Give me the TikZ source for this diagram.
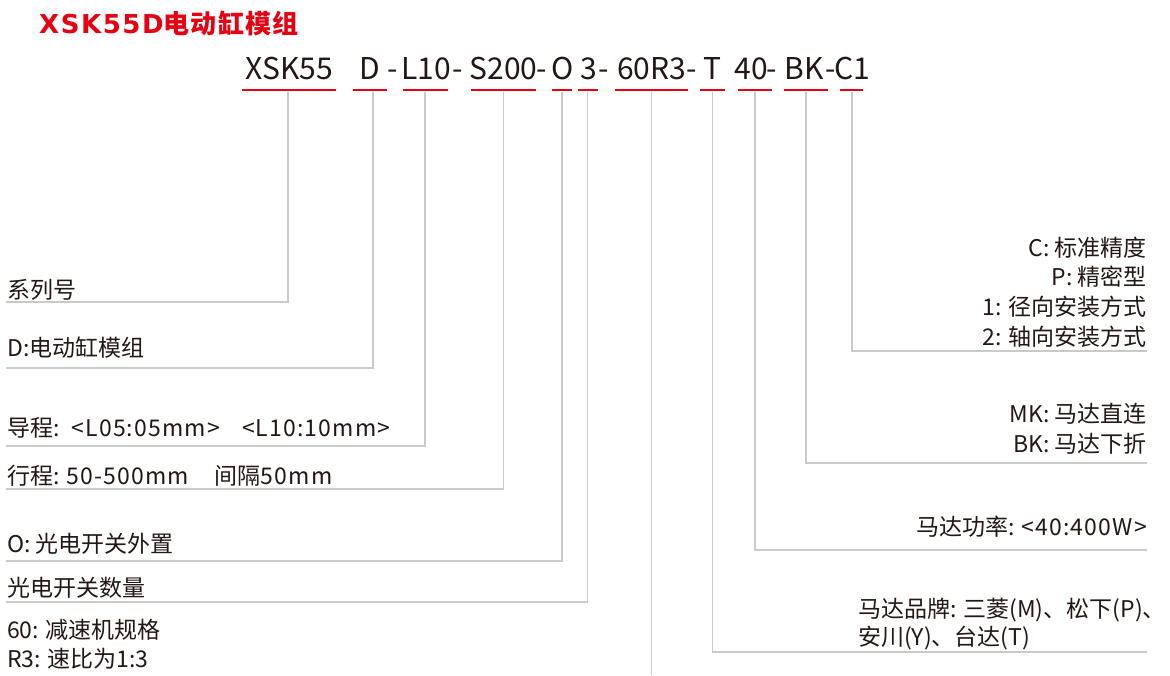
\documentclass[tikz,border=0pt]{standalone}
\usepackage{fontspec}
\setmainfont{Noto Sans CJK SC}
\newfontfamily\djv{DejaVu Sans}
\newcommand{\trk}[1]{{\addfontfeature{LetterSpace=5}#1}}
\definecolor{tred}{RGB}{230,0,18}
\definecolor{lnc}{RGB}{202,202,202}
\definecolor{txt}{RGB}{35,24,21}
\tikzset{
  lbl/.style={font=\fontsize{23}{28}\selectfont, text=txt, inner sep=0pt},
  lblL/.style={lbl, anchor=base west},
  lblR/.style={lbl, anchor=base east},
  codetok/.style={font=\fontsize{30}{36}\selectfont, text=txt, inner sep=0pt, anchor=base},
  conn/.style={draw=lnc, line width=1.8pt},
  ul/.style={draw=tred, line width=2.2pt}
}
\begin{document}
\begin{tikzpicture}[x=1pt,y=-1pt]
\useasboundingbox[fill=white] (0,0) rectangle (1170,675);

% title
\node[anchor=base west, inner sep=0pt, text=tred, font=\bfseries\fontsize{26}{30}\selectfont] (title) at (39,33)
  {{\djv\bfseries\addfontfeature{LetterSpace=6}XSK55D}{\addfontfeature{LetterSpace=5}电动缸模组}};

% code tokens
\node[codetok] (c1) at (289,79) {XSK55};
\node[codetok] (c2) at (370,79) {D};
\node[codetok] (h1) at (393,79) {-};
\node[codetok] (c3) at (426,79) {L10};
\node[codetok] (h2) at (458,79) {-};
\node[codetok] (c4) at (503.5,79) {S200};
\node[codetok] (h3) at (542,79) {-};
\node[codetok] (c5) at (562.5,79) {O};
\node[codetok] (c6) at (588.5,79) {3};
\node[codetok] (h4) at (604,79) {-};
\node[codetok] (c7) at (651.5,79) {60R3};
\node[codetok] (h5) at (692,79) {-};
\node[codetok] (c8) at (712,79) {T};
\node[codetok] (c9) at (751,79) {40};
\node[codetok] (h6) at (772,79) {-};
\node[codetok] (c10) at (804,79) {BK};
\node[codetok] (h7) at (831,79) {-};
\node[codetok] (c11) at (852,79) {C1};

% underline coordinates
\foreach \i/\a/\b in {1/242/336, 2/353/387, 3/403/448, 4/471/536, 5/552/572, 6/578/598,
                      7/615/688, 8/700/725, 9/738/772, 10/784/828, 11/840/863}{
  \coordinate (ua\i) at (\a,90);
  \coordinate (ub\i) at (\b,90);
}
\foreach \i in {1,...,11}{ \draw[ul] (ua\i) -- (ub\i); }

% connector tops
\coordinate (t1) at (288,92);
\coordinate (t2) at (373,92);
\coordinate (t3) at (425,92);
\coordinate (t4) at (503.5,92);
\coordinate (t5) at (562,92);
\coordinate (t6) at (587.5,92);
\coordinate (t7) at (651.5,92);
\coordinate (t8) at (712.5,92);
\coordinate (t9) at (755,92);
\coordinate (t10) at (806,92);
\coordinate (t11) at (852,92);

% connector ends
\coordinate (e1) at (6,302);
\coordinate (e2) at (6,368);
\coordinate (e3) at (6,446);
\coordinate (e4) at (6,489);
\coordinate (e5) at (6,561);
\coordinate (e6) at (6,602);
\coordinate (e7) at (651.5,675);
\coordinate (e8) at (1147,652);
\coordinate (e9) at (1147,550);
\coordinate (e10) at (1147,463);
\coordinate (e11) at (1147,351);

\foreach \i in {1,2,3,4,5,6,8,9,10,11}{ \draw[conn] (t\i) |- (e\i); }
\draw[conn] (t7) -- (e7);

% left labels
\node[lblL] (l1) at (7,298) {系列号};
\node[lblL] (l2) at (7,356) {D:电动缸模组};
\node[lblL] (l3) at (7,436) {导程:\hspace{12pt}\trk{<L05:05mm>}\hspace{22pt}\trk{<L10:10mm>}};
\node[lblL] (l4) at (7,484) {行程: \trk{50-500mm}\hspace{26pt}间隔\trk{50mm}};
\node[lblL] (l5) at (7,552) {O: 光电开关外置};
\node[lblL] (l6) at (7,596) {光电开关数量};
\node[lblL] (l7) at (7,638) {60: 减速机规格};
\node[lblL] (l8) at (7,667) {R3: 速比为1:3};

% right labels
\node[lblR] (r1) at (1147,256) {C: 标准精度};
\node[lblR] (r2) at (1147,285) {P: 精密型};
\node[lblR] (r3) at (1147,315) {1: 径向安装方式};
\node[lblR] (r4) at (1147,345) {2: 轴向安装方式};
\node[lblR] (r5) at (1147,422) {MK: 马达直连};
\node[lblR] (r6) at (1147,452) {BK: 马达下折};
\node[lblR] (r7) at (1147,535) {马达功率: \trk{<40:400W>}};
\node[lblL] (r8) at (858,617) {马达品牌: 三菱(M)、松下(P)、};
\node[lblL] (r9) at (858,645) {安川(Y)、台达(T)};
\end{tikzpicture}
\end{document}
